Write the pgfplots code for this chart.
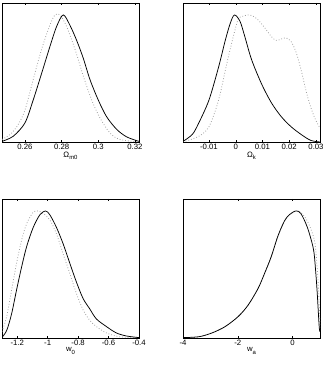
\documentclass[border=0pt]{standalone}
\usepackage{fontspec}
\setmainfont{Liberation Sans}
\usepackage{pgfplots}
\pgfplotsset{compat=1.18}

\pgfplotsset{
  pan/.style={
    width=137bp,height=139bp,scale only axis,
    anchor=south west,
    ymin=0,ymax=1.094,ytick=\empty,
    tick pos=both,tick align=inside,
    major tick length=2bp,
    axis line style={line width=0.5pt},
    every tick/.style={black,line width=0.4pt},
    tick label style={font=\fontsize{7.8}{9}\selectfont},
    xticklabel style={/pgf/number format/assume math mode=true,/pgf/number format/fixed,yshift=1bp},
    scaled x ticks=false,
    label style={font=\fontsize{7.8}{9}\selectfont},
    xlabel style={yshift=5bp},
    clip=true,
  },
  sol/.style={black,line width=0.75pt,smooth,tension=0.5},
  dot/.style={gray!75,dotted,line width=0.8pt,smooth,tension=0.5},
}
\newcommand{\sub}[1]{\raisebox{-0.6ex}{\fontsize{6}{7}\selectfont #1}}

\begin{document}
\begin{tikzpicture}
\path[use as bounding box] (0,0) rectangle (332bp,366bp);

% Omega_m0
\begin{axis}[pan,at={(2bp,224bp)},xmin=0.2475,xmax=0.3222,
  xtick={0.26,0.28,0.3,0.32},xlabel={Ω\sub{m0}}]
\addplot[dot] coordinates {
 (0.2475,0.02) (0.2520,0.06) (0.2560,0.13) (0.2600,0.25) (0.2645,0.49) (0.2691,0.73)
 (0.2736,0.92) (0.2764,1.0) (0.2791,1.0) (0.2827,0.91) (0.2873,0.73) (0.2918,0.52)
 (0.2964,0.33) (0.3009,0.19) (0.3064,0.07) (0.3118,0.02) (0.3222,0.0)
};
\addplot[sol] coordinates {
 (0.2475,0.005) (0.2536,0.045) (0.2600,0.15) (0.2645,0.33) (0.2691,0.54) (0.2736,0.75)
 (0.2773,0.91) (0.2809,1.0) (0.2845,0.92) (0.2882,0.80) (0.2918,0.66) (0.2955,0.49)
 (0.3000,0.33) (0.3045,0.20) (0.3100,0.10) (0.3155,0.04) (0.3222,0.005)
};
\end{axis}

% Omega_k
\begin{axis}[pan,at={(183bp,224bp)},xmin=-0.0197,xmax=0.0315,
  xtick={-0.01,0,0.01,0.02,0.03},xlabel={Ω\sub{k}}]
\addplot[dot] coordinates {
 (-0.0197,0.0) (-0.0138,0.045) (-0.0100,0.12) (-0.0064,0.33) (-0.0033,0.62)
 (-0.0009,0.83) (0.0010,0.97) (0.0028,0.99) (0.0047,1.0) (0.0065,0.99)
 (0.0084,0.96) (0.0108,0.90) (0.0133,0.83) (0.0151,0.80) (0.0170,0.81)
 (0.0188,0.82) (0.0207,0.79) (0.0225,0.71) (0.0244,0.57) (0.0268,0.36)
 (0.0293,0.20) (0.0315,0.11)
};
\addplot[sol] coordinates {
 (-0.0197,0.005) (-0.0162,0.06) (-0.0138,0.15) (-0.0100,0.33) (-0.0064,0.59)
 (-0.0039,0.80) (-0.0021,0.93) (-0.0005,1.0) (0.0016,0.95) (0.0034,0.83)
 (0.0059,0.65) (0.0096,0.46) (0.0133,0.31) (0.0170,0.20) (0.0207,0.12)
 (0.0244,0.06) (0.0280,0.013) (0.0315,0.0)
};
\end{axis}

% w_0
\begin{axis}[pan,at={(2bp,28bp)},xmin=-1.3,xmax=-0.4,
  xtick={-1.2,-1,-0.8,-0.6,-0.4},xlabel={w\sub{0}}]
\addplot[dot] coordinates {
 (-1.300,0.05) (-1.269,0.17) (-1.237,0.38) (-1.204,0.59) (-1.171,0.77)
 (-1.138,0.90) (-1.095,0.99) (-1.062,1.0) (-1.029,0.98) (-0.986,0.93)
 (-0.942,0.82) (-0.898,0.66) (-0.855,0.51) (-0.811,0.35) (-0.767,0.22)
 (-0.724,0.14) (-0.680,0.09) (-0.614,0.04) (-0.527,0.01) (-0.400,0.0)
};
\addplot[sol] coordinates {
 (-1.300,0.005) (-1.269,0.06) (-1.237,0.19) (-1.204,0.38) (-1.171,0.56)
 (-1.138,0.72) (-1.095,0.87) (-1.051,0.97) (-1.014,1.0) (-0.986,0.97)
 (-0.942,0.87) (-0.898,0.74) (-0.855,0.59) (-0.811,0.44) (-0.767,0.31)
 (-0.724,0.23) (-0.680,0.15) (-0.614,0.09) (-0.549,0.04) (-0.483,0.016) (-0.400,0.003)
};
\end{axis}

% w_a
\begin{axis}[pan,at={(183bp,28bp)},xmin=-4,xmax=1.0,
  xtick={-4,-2,0},xlabel={w\sub{a}}]
\addplot[dot] coordinates {
 (-4.00,0.003) (-3.42,0.01) (-2.94,0.04) (-2.46,0.09) (-1.98,0.17) (-1.62,0.26)
 (-1.26,0.39) (-1.02,0.51) (-0.78,0.64) (-0.54,0.80) (-0.30,0.92) (-0.12,0.97)
 (0.12,1.0) (0.30,0.99) (0.54,0.92) (0.76,0.80) (0.84,0.70) (0.92,0.48)
 (0.97,0.27) (1.00,0.06)
};
\addplot[sol] coordinates {
 (-4.00,0.003) (-3.42,0.01) (-2.94,0.04) (-2.46,0.09) (-1.98,0.17) (-1.62,0.26)
 (-1.26,0.39) (-1.02,0.51) (-0.78,0.64) (-0.54,0.80) (-0.30,0.92) (-0.12,0.97)
 (0.12,1.0) (0.30,0.98) (0.54,0.87) (0.76,0.70) (0.84,0.53) (0.90,0.35)
 (0.97,0.09) (1.00,0.05)
};
\end{axis}
\end{tikzpicture}
\end{document}
